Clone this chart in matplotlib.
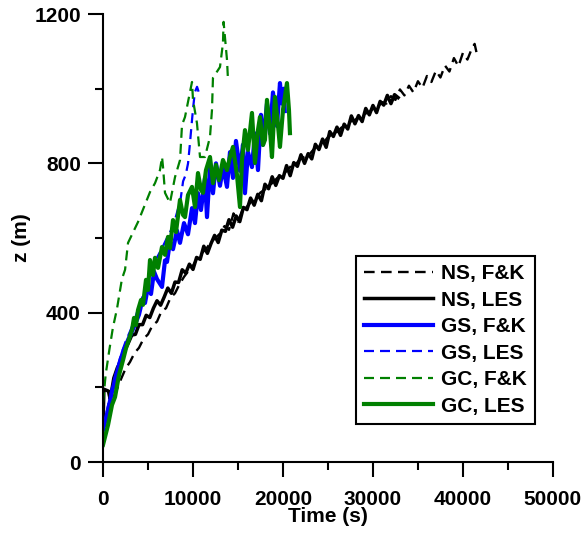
import numpy as np
import matplotlib
matplotlib.use('Agg')
import matplotlib.pyplot as plt
from matplotlib.ticker import MultipleLocator

plt.rcParams['font.family'] = ['Liberation Sans', 'DejaVu Sans']
plt.rcParams['font.weight'] = 'bold'

# NS, F&K (black dashed)
t_ns_fk = [0, 500, 1000, 1500, 2000, 2500, 3000, 3500, 4000, 4500, 5000, 5500, 6000, 6500,
           7000, 7500, 8000, 8500, 9000, 9500, 10000, 10500, 11000, 11500, 12000, 12500,
           13000, 13500, 14000, 14500, 15000, 15500, 16000, 16500, 17000, 17500, 18000,
           18500, 19000, 19500, 20000, 20500, 21000, 21500, 22000, 22500, 23000, 23500,
           24000, 24500, 25000, 25500, 26000, 26500, 27000, 27500, 28000, 28500, 29000,
           29500, 30000, 30500, 31000, 31500, 32000, 32500, 33000, 33500, 34000, 34500,
           35000, 35500, 36000, 36500, 37000, 37500, 38000, 38500, 39000, 39500, 40000,
           40500, 41000, 41300, 41500]
z_ns_fk = [90, 128, 165, 192, 222, 250, 268, 292, 306, 330, 342, 366, 376, 404,
           412, 440, 452, 476, 496, 512, 526, 548, 560, 572, 590, 600,
           612, 632, 622, 666, 644, 676, 684, 698, 706, 722, 730,
           740, 752, 764, 770, 782, 796, 800, 814, 818, 826, 840,
           850, 856, 870, 878, 884, 896, 900, 912, 916, 924, 932,
           936, 946, 950, 964, 960, 980, 970, 998, 982, 1008, 990,
           1020, 1002, 1034, 1018, 1048, 1030, 1062, 1046, 1082, 1060, 1096,
           1078, 1108, 1120, 1098]

# NS, LES (black solid)
t_ns_les = [0, 100, 600, 800, 1200, 1600, 2000, 2400, 2800, 3200, 3600, 4000, 4400, 4800,
            5200, 5600, 6000, 6400, 6800, 7200, 7600, 8000, 8400, 8800, 9200, 9600, 10000,
            10400, 10800, 11200, 11600, 12000, 12400, 12800, 13200, 13600, 14000, 14400,
            14800, 15200, 15600, 16000, 16400, 16800, 17200, 17600, 18000, 18400, 18800,
            19200, 19600, 20000, 20400, 20800, 21200, 21600, 22000, 22400, 22800, 23200,
            23600, 24000, 24400, 24800, 25200, 25600, 26000, 26400, 26800, 27200, 27600,
            28000, 28400, 28800, 29200, 29600, 30000, 30400, 30800, 31200, 31600, 32000,
            32400, 32800]
z_ns_les = [100, 195, 190, 168, 225, 253, 270, 298, 318, 340, 342, 368, 368, 393,
            387, 412, 432, 420, 442, 466, 452, 482, 481, 515, 506, 530, 516,
            548, 543, 578, 559, 585, 607, 588, 621, 618, 649, 629,
            659, 644, 682, 676, 707, 688, 717, 700, 744, 732, 764,
            741, 767, 760, 794, 767, 802, 792, 823, 800, 826, 812,
            851, 837, 865, 843, 885, 872, 897, 875, 905, 892, 927,
            906, 928, 912, 947, 930, 955, 936, 966, 956, 982, 960,
            984, 976]

# GS, F&K (blue solid)
t_gs_fk = [0, 556, 1000, 1333, 1778, 2222, 2556, 2778, 3222, 3667, 4000, 4333, 4666, 5000,
           5333, 5667, 6000, 6555, 6889, 7111, 7444, 7778, 8222, 8555, 9000, 9444, 9889,
           10222, 10555, 10889, 11333, 11556, 11889, 12222, 12555, 13000, 13333, 13778,
           14111, 14444, 14777, 15222, 15555, 15778, 16111, 16555, 16889, 17222, 17555,
           17778, 18222, 18555, 18888, 19333, 19666, 19888, 20111, 20200]
z_gs_fk = [86, 139, 188, 220, 260, 295, 313, 327, 350, 375, 395, 430, 426, 470,
           450, 510, 490, 469, 540, 536, 590, 570, 620, 587, 640, 610, 680,
           640, 720, 675, 760, 656, 790, 720, 800, 740, 790, 737,
           830, 761, 860, 780, 850, 720, 830, 790, 880, 782, 930,
           850, 960, 880, 990, 900, 1015, 960, 1000, 940]

# GS, LES (blue dashed)
t_gs_les = [0, 500, 1000, 1500, 2000, 2500, 3000, 3500, 4000, 4500, 5000, 5500, 6000, 6500,
            7000, 7500, 7900, 8300, 8600, 8900, 9200, 9450, 9650, 9850, 10000, 10200,
            10450, 10650]
z_gs_les = [90, 145, 200, 245, 288, 322, 350, 380, 418, 450, 488, 520, 548, 570,
            595, 618, 640, 675, 700, 752, 770, 800, 850, 905, 945, 990,
            1005, 990]

# GC, F&K (green dashed)
t_gc_fk = [0, 300, 700, 1100, 1550, 2100, 2450, 2780, 3890, 5220, 5780, 6330, 6560, 6670,
           6890, 7440, 8000, 8560, 8780, 9110, 9890, 10000, 10440, 10780, 11330, 11890,
           12110, 12220, 13000, 13330, 13400, 13780, 13890]
z_gc_fk = [160, 235, 300, 360, 410, 490, 515, 587, 643, 723, 747, 782, 817, 790,
           721, 694, 763, 809, 903, 924, 1018, 970, 908, 817, 817, 871,
           943, 1029, 1058, 1122, 1179, 1077, 1023]

# GC, LES (green solid)
t_gc_les = [0, 556, 1000, 1333, 1778, 2222, 2556, 2778, 3222, 3444, 3667, 3889, 4222, 4444,
            4778, 5000, 5222, 5556, 5778, 6111, 6555, 6889, 7222, 7444, 7778, 8111, 8555,
            8889, 9111, 9444, 9889, 10222, 10555, 10889, 11111, 11444, 11889, 12222, 12555,
            12889, 13333, 13778, 14111, 14444, 14889, 15222, 15444, 15778, 16111, 16555,
            16889, 17222, 17444, 17778, 18000, 18222, 18555, 18777, 19111, 19444, 19666,
            20000, 20444, 20666, 20777]
z_gc_les = [46, 99, 153, 174, 233, 273, 305, 321, 354, 386, 367, 407, 434, 421,
            488, 461, 541, 501, 547, 520, 576, 555, 603, 573, 648, 616, 702,
            662, 656, 715, 737, 683, 774, 729, 721, 782, 817, 747, 796,
            755, 809, 782, 817, 844, 769, 683, 809, 889, 836, 935,
            801, 889, 924, 849, 863, 970, 889, 817, 978, 903, 844,
            943, 1015, 943, 881]

xticks = [0, 10000, 20000, 30000, 40000, 50000]
yticks = [0, 400, 800, 1200]

blue = '#0000ff'
green = '#008000'
dash = (4.5, 2.7)

fig = plt.figure(figsize=(5.82, 5.35), dpi=100)
ax = fig.add_axes([0.177, 0.1364, 0.773, 0.8374])

ax.plot(t_ns_fk, z_ns_fk, color='black', lw=1.7, dashes=dash, label='NS, F&K')
ax.plot(t_ns_les, z_ns_les, color='black', lw=2.5, label='NS, LES')
ax.plot(t_gs_fk, z_gs_fk, color=blue, lw=3, label='GS, F&K')
ax.plot(t_gs_les, z_gs_les, color=blue, lw=1.6, dashes=dash, label='GS, LES')
ax.plot(t_gc_fk, z_gc_fk, color=green, lw=1.6, dashes=dash, label='GC, F&K')
ax.plot(t_gc_les, z_gc_les, color=green, lw=3, label='GC, LES')

ax.set_xlim(0, 50000)
ax.set_ylim(0, 1200)
ax.set_xticks(xticks)
ax.set_yticks(yticks)
ax.xaxis.set_minor_locator(MultipleLocator(5000))
ax.yaxis.set_minor_locator(MultipleLocator(200))

for s in ['top', 'right']:
    ax.spines[s].set_visible(False)
for s in ['left', 'bottom']:
    ax.spines[s].set_linewidth(1.5)

ax.tick_params(which='major', direction='out', length=11, width=1.5, labelsize=15)
ax.tick_params(which='minor', direction='out', length=5.5, width=1.5)
ax.tick_params(axis='x', which='major', pad=9)
ax.tick_params(axis='y', which='major', pad=5)

ax.set_xlabel('Time (s)', fontsize=15, fontweight='bold', labelpad=-1)
ax.set_ylabel('z (m)', fontsize=15, fontweight='bold', labelpad=2)

leg = ax.legend(loc='lower left', bbox_to_anchor=(0.562, 0.085), borderaxespad=0,
                fancybox=False, framealpha=1, edgecolor='black', fontsize=15,
                handlelength=3.3, handletextpad=0.4, labelspacing=0.36,
                borderpad=0.4)
leg.get_frame().set_linewidth(1.5)

fig.savefig('out.png', dpi=100)
